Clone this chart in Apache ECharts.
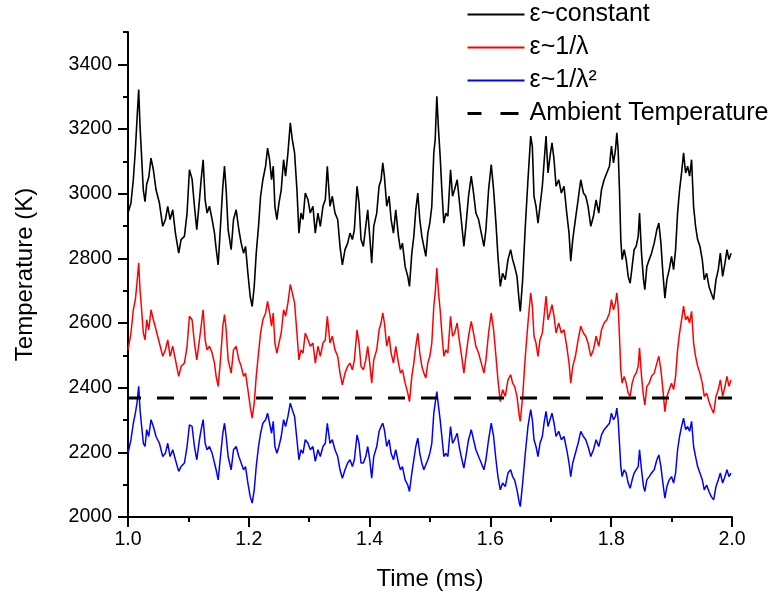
<!DOCTYPE html>
<html><head><meta charset="utf-8">
<script src="https://cdn.jsdelivr.net/npm/echarts@6/dist/echarts.min.js"></script>
<style>html,body{margin:0;padding:0;background:#fff}#c{width:773px;height:598px}</style>
</head><body><div id="c"></div>
<script>
// ---- data ----
const nameConst = 'ε~constant';
const nameInvL = 'ε~1/λ';
const nameInvL2 = 'ε~1/λ²';
const nameAmbient = 'Ambient Temperature';

const timeMs = [
1.0000,1.0049,1.0088,1.0122,1.0149,1.0177,1.0199,1.0221,1.0254,1.0282,
1.0310,1.0343,1.0381,1.0420,1.0464,1.0520,1.0575,1.0619,1.0658,1.0697,
1.0741,1.0785,1.0840,1.0879,1.0934,1.0978,1.1017,1.1061,1.1100,1.1139,
1.1183,1.1211,1.1244,1.1277,1.1310,1.1349,1.1393,1.1432,1.1459,1.1493,
1.1531,1.1570,1.1598,1.1625,1.1658,1.1708,1.1747,1.1791,1.1835,1.1874,
1.1913,1.1946,1.1985,1.2023,1.2056,1.2090,1.2123,1.2161,1.2195,1.2233,
1.2278,1.2311,1.2344,1.2377,1.2405,1.2432,1.2465,1.2499,1.2537,1.2576,
1.2609,1.2648,1.2687,1.2720,1.2758,1.2797,1.2830,1.2864,1.2897,1.2935,
1.2980,1.3018,1.3062,1.3101,1.3145,1.3184,1.3228,1.3267,1.3300,
1.3344,1.3383,1.3427,1.3472,1.3510,1.3549,1.3593,1.3637,1.3676,1.3715,
1.3748,1.3792,1.3825,1.3858,1.3897,1.3936,1.3969,1.4002,1.4035,1.4069,
1.4118,1.4157,1.4190,1.4218,1.4245,1.4284,1.4323,1.4356,1.4395,1.4433,
1.4478,1.4511,1.4544,1.4588,1.4632,1.4660,1.4699,1.4732,1.4765,1.4798,
1.4831,1.4865,1.4898,1.4931,1.4964,1.4997,1.5030,1.5063,1.5086,1.5113,
1.5141,1.5168,1.5196,1.5229,1.5262,1.5296,1.5340,1.5373,1.5406,1.5450,
1.5484,1.5517,1.5561,1.5594,1.5638,1.5683,1.5721,1.5760,1.5804,1.5849,
1.5893,1.5926,1.5970,1.6014,1.6053,1.6092,1.6125,1.6164,1.6202,1.6246,
1.6291,1.6335,1.6368,1.6401,1.6440,1.6479,1.6495,1.6534,1.6578,1.6622,
1.6667,1.6694,1.6722,1.6755,1.6788,1.6821,1.6860,1.6888,1.6921,1.6954,
1.6987,1.7020,1.7054,1.7087,1.7131,1.7175,1.7219,1.7264,1.7302,1.7330,
1.7363,1.7407,1.7452,1.7496,1.7540,1.7579,1.7617,1.7662,1.7706,1.7750,
1.7794,1.7839,1.7883,1.7927,1.7971,1.8004,1.8038,1.8071,1.8093,1.8115,
1.8137,1.8159,1.8181,1.8215,1.8248,1.8281,1.8314,1.8347,1.8380,1.8413,
1.8447,1.8469,1.8502,1.8535,1.8557,1.8590,1.8629,1.8668,1.8712,1.8756,
1.8789,1.8823,1.8856,1.8889,1.8922,1.8961,1.8999,1.9033,1.9066,1.9099,
1.9132,1.9165,1.9198,1.9232,1.9265,1.9298,1.9331,1.9364,1.9397,1.9431,
1.9469,1.9508,1.9541,1.9580,1.9619,1.9657,1.9696,1.9735,1.9773,1.9807,
1.9845,1.9884,1.9917,1.9950,1.9984
];

const tempConst = [
2940,2971,3043,3136,3229,3322,3208,3130,3010,2975,
3030,3050,3110,3074,3012,2971,2899,2920,2961,2920,
2950,2878,2816,2858,2868,2940,3074,3045,2961,2889,
2981,3043,3105,2981,2940,2961,2920,2878,2830,2780,
2899,3023,3085,3012,2889,2827,2920,2950,2889,2847,
2816,2837,2754,2682,2651,2713,2816,2899,2992,3043,
3085,3141,3105,3043,3085,2961,2920,2971,3012,3105,
3054,3126,3219,3167,3126,3012,2878,2940,2920,3002,
2981,2940,2961,2878,2940,2899,2961,2981,3085,
2961,2992,2940,2920,2837,2780,2827,2847,2878,2858,
2889,3023,2971,2858,2837,2899,2950,2868,2785,2899,
2940,3023,3043,3095,3054,2961,2992,2920,2878,2950,
2868,2827,2847,2775,2744,2713,2816,2868,2950,3002,
2920,2868,2837,2806,2878,2909,2961,3126,3167,3301,
3198,3116,3012,2909,2940,2930,3074,2992,3012,3043,
2981,2920,2837,2899,2992,3054,3002,2940,2920,2878,
2837,2889,3012,3090,3012,2909,2806,2713,2754,2734,
2796,2827,2796,2775,2744,2662,2636,2734,2899,3043,
3178,3147,2992,2961,2909,2961,3023,3095,3178,3064,
3116,3157,3105,3023,3043,3002,3023,2940,2878,2791,
2858,2920,2981,3043,3002,2992,2961,2899,2930,2981,
2940,3012,3043,3064,3085,3147,3095,3136,3188,3136,
3012,2858,2796,2827,2796,2744,2723,2775,2827,2837,
2868,2940,2816,2734,2703,2775,2796,2816,2847,2889,
2909,2847,2754,2677,2734,2765,2806,2765,2827,2940,
3012,3064,3126,3064,3085,3054,3105,2961,2899,2858,
2837,2796,2734,2754,2713,2692,2672,2734,2765,2816,
2744,2785,2827,2796,2816
];

const tempInvL = [
2517,2569,2641,2672,2724,2786,2703,2652,2569,2548,
2610,2579,2641,2610,2579,2538,2497,2517,2548,2497,
2528,2486,2435,2466,2476,2528,2621,2610,2538,2486,
2548,2590,2641,2548,2517,2528,2507,2476,2435,2404,
2486,2590,2626,2579,2486,2445,2517,2528,2486,2466,
2435,2445,2394,2342,2306,2352,2435,2507,2569,2610,
2631,2667,2631,2590,2631,2538,2507,2538,2569,2641,
2621,2662,2719,2693,2662,2569,2486,2517,2507,2569,
2548,2528,2538,2476,2528,2497,2538,2548,2621,
2538,2559,2517,2497,2445,2409,2445,2466,2476,2455,
2486,2579,2538,2466,2455,2486,2528,2476,2414,2486,
2517,2579,2600,2631,2600,2528,2559,2507,2476,2528,
2476,2445,2455,2414,2383,2357,2435,2476,2528,2569,
2507,2466,2445,2430,2476,2497,2538,2652,2693,2770,
2693,2641,2569,2497,2517,2507,2621,2559,2569,2600,
2548,2507,2445,2497,2559,2605,2569,2528,2507,2476,
2445,2486,2569,2631,2579,2497,2424,2357,2394,2373,
2424,2440,2414,2404,2373,2311,2296,2373,2497,2600,
2693,2652,2559,2538,2497,2548,2569,2621,2683,2610,
2631,2657,2621,2569,2600,2569,2579,2528,2476,2414,
2466,2497,2548,2590,2569,2559,2538,2497,2517,2559,
2528,2579,2600,2610,2631,2672,2641,2662,2693,2652,
2559,2455,2414,2435,2414,2383,2373,2414,2435,2445,
2466,2523,2435,2373,2347,2404,2414,2435,2445,2476,
2497,2455,2394,2326,2373,2394,2414,2394,2435,2517,
2569,2610,2652,2610,2621,2600,2636,2538,2497,2466,
2445,2414,2373,2383,2357,2337,2321,2373,2394,2424,
2373,2404,2435,2404,2424
];

const tempInvL2 = [
2197,2239,2290,2321,2352,2404,2332,2290,2228,2218,
2270,2249,2301,2280,2249,2228,2187,2197,2228,2187,
2208,2177,2141,2156,2167,2218,2285,2280,2218,2177,
2239,2270,2301,2228,2208,2218,2197,2167,2146,2115,
2187,2259,2290,2249,2187,2146,2208,2218,2187,2167,
2146,2156,2105,2063,2043,2084,2156,2218,2259,2290,
2301,2321,2290,2259,2296,2218,2197,2218,2249,2301,
2280,2311,2352,2332,2311,2239,2177,2208,2197,2239,
2228,2208,2218,2172,2208,2187,2218,2228,2290,
2228,2239,2208,2187,2146,2120,2146,2167,2177,2156,
2177,2254,2228,2167,2167,2187,2218,2177,2120,2187,
2218,2265,2280,2290,2270,2218,2239,2197,2177,2208,
2167,2146,2156,2115,2099,2079,2136,2177,2218,2244,
2197,2167,2146,2141,2177,2197,2228,2321,2352,2388,
2342,2301,2249,2187,2197,2187,2280,2228,2239,2259,
2218,2187,2151,2187,2239,2270,2239,2208,2187,2167,
2146,2177,2239,2290,2249,2177,2125,2084,2105,2094,
2136,2146,2125,2115,2084,2043,2032,2105,2197,2280,
2332,2301,2239,2218,2187,2228,2249,2290,2327,2280,
2301,2321,2290,2249,2265,2239,2249,2208,2167,2125,
2167,2197,2228,2265,2249,2239,2218,2187,2208,2239,
2218,2254,2270,2280,2290,2321,2301,2311,2337,2301,
2228,2156,2125,2146,2136,2105,2089,2115,2136,2146,
2156,2208,2146,2094,2079,2115,2125,2136,2146,2177,
2192,2156,2105,2058,2094,2115,2125,2105,2136,2208,
2249,2280,2306,2270,2280,2265,2296,2218,2187,2156,
2136,2115,2084,2099,2079,2063,2053,2094,2115,2136,
2105,2125,2146,2125,2136
];

const ambientTemp = 2368;
const ambientSpan = [1.0, 2.0];
const yLabelValues = [2000, 2200, 2400, 2600, 2800, 3000, 3200, 3400];

// ---- chart ----
const pair = (vals) => timeMs.map((t, i) => [t, vals[i]]);
const chart = echarts.init(document.getElementById('c'), null, {renderer: 'canvas'});
const FONT = '"Liberation Sans", Arial, sans-serif';
const axisCol = '#000';

chart.setOption({
  animation: false,
  backgroundColor: '#fff',
  textStyle: {fontFamily: FONT, color: '#000'},
  grid: {left: 128, right: 41, top: 32, bottom: 81, containLabel: false},
  legend: {
    orient: 'vertical', left: 466, top: 2, padding: 0,
    itemWidth: 57, itemHeight: 14, itemGap: 8,
    itemStyle: {opacity: 0, borderWidth: 0},
    textStyle: {fontSize: 25, color: '#000', fontFamily: FONT, lineHeight: 24},
    data: [
      {name: nameConst},
      {name: nameInvL},
      {name: nameInvL2},
      {name: nameAmbient, lineStyle: {width: 3, type: [18, 19], color: '#000'}}
    ]
  },
  xAxis: {
    type: 'value', min: 1.0, max: 2.0, interval: 0.2,
    axisLine: {show: true, onZero: false, lineStyle: {color: axisCol, width: 2}},
    axisTick: {show: true, length: 10, lineStyle: {color: axisCol, width: 2}},
    minorTick: {show: true, splitNumber: 2, length: 5, lineStyle: {color: axisCol, width: 2}},
    splitLine: {show: false}, minorSplitLine: {show: false},
    axisLabel: {fontSize: 19.5, color: '#000', margin: 13, fontFamily: FONT,
      formatter: v => v.toFixed(1)},
    name: 'Time (ms)', nameLocation: 'middle', nameGap: 50,
    nameTextStyle: {fontSize: 24, color: '#000', fontFamily: FONT}
  },
  yAxis: [
    {
      type: 'value', position: 'left', min: 2000, max: 3500, interval: 100,
      axisLine: {show: true, onZero: false, lineStyle: {color: axisCol, width: 2}},
      axisTick: {show: true, length: 5, lineStyle: {color: axisCol, width: 2}},
      axisLabel: {show: false},
      splitLine: {show: false}
    },
    {
      type: 'value', position: 'left', min: 2000, max: 3500, interval: 200,
      axisLine: {show: false},
      axisTick: {show: true, length: 10, customValues: yLabelValues, lineStyle: {color: axisCol, width: 2}},
      axisLabel: {show: true, customValues: yLabelValues, fontSize: 19.5, color: '#000', margin: 16,
        fontFamily: FONT, formatter: v => String(v)},
      splitLine: {show: false},
      name: 'Temperature (K)', nameLocation: 'middle', nameGap: 91,
      nameTextStyle: {fontSize: 24, color: '#000', fontFamily: FONT}
    }
  ],
  series: [
    {name: nameConst, type: 'line', yAxisIndex: 0, data: pair(tempConst), symbol: 'none',
     lineStyle: {color: '#000000', width: 1.6}, itemStyle: {color: '#000000'}},
    {name: nameInvL, type: 'line', yAxisIndex: 0, data: pair(tempInvL), symbol: 'none',
     lineStyle: {color: '#ff0000', width: 1.5}, itemStyle: {color: '#ff0000'}},
    {name: nameInvL2, type: 'line', yAxisIndex: 0, data: pair(tempInvL2), symbol: 'none',
     lineStyle: {color: '#0000ff', width: 1.5}, itemStyle: {color: '#0000ff'}},
    {name: nameAmbient, type: 'line', yAxisIndex: 0,
     data: ambientSpan.map(t => [t, ambientTemp]), symbol: 'none',
     lineStyle: {color: '#000000', width: 3, type: [17, 16], dashOffset: 4}, itemStyle: {color: '#000000'}}
  ]
});
</script></body></html>
